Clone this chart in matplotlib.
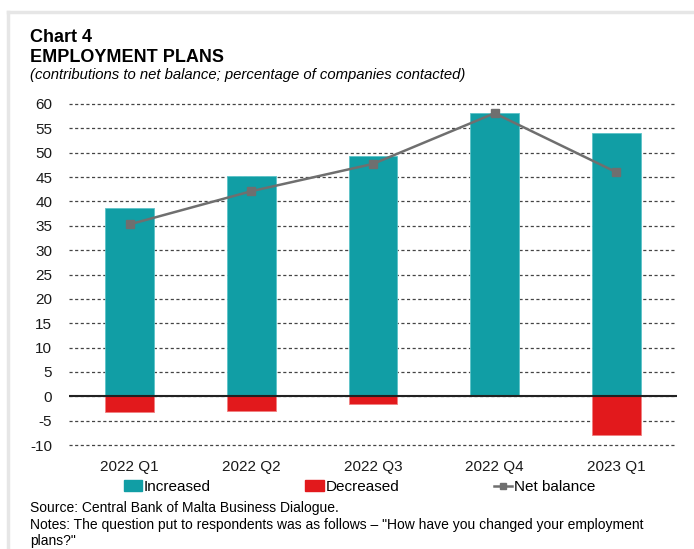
import matplotlib.pyplot as plt
from matplotlib.patches import Rectangle
from matplotlib.lines import Line2D

plt.rcParams['font.family'] = ['Liberation Sans', 'DejaVu Sans']
plt.rcParams['axes.unicode_minus'] = False

quarters = ["2022 Q1", "2022 Q2", "2022 Q3", "2022 Q4", "2023 Q1"]
increased = [38.6, 45.2, 49.3, 58.1, 54.0]
decreased = [-3.3, -3.1, -1.6, 0.0, -8.0]
net_balance = [35.3, 42.1, 47.7, 58.1, 46.0]

teal = "#119ea5"
red = "#e2191c"
grey = "#6f6f6f"

fig = plt.figure(figsize=(6.94, 5.49), dpi=100)

# light frame around the panel
fig.add_artist(Line2D([8 / 694, 8 / 694], [0, 1 - 12 / 549], color="#e6e6e6", lw=2.5))
fig.add_artist(Line2D([8 / 694, 1], [1 - 12 / 549, 1 - 12 / 549], color="#e6e6e6", lw=2.5))

ax = fig.add_axes([69 / 694, 1 - 446.5 / 549, (677 - 69) / 694, (446.5 - 102.5) / 549])

x = list(range(len(quarters)))
ax.bar(x, increased, width=0.4, color=teal, edgecolor="#5cc3c8", linewidth=0.6, zorder=2)
ax.bar(x, decreased, width=0.4, color=red, edgecolor="#f08080", linewidth=0.6, zorder=2)
ax.plot(x, net_balance, color=grey, lw=1.8, marker="s", markersize=5.5, zorder=3)

ax.set_xlim(-0.5, len(quarters) - 0.5)
ax.set_ylim(-10.3, 60.3)
ax.set_yticks(range(-10, 61, 5))
ax.set_xticks(x)
ax.set_xticklabels(quarters)
ax.yaxis.grid(True, linestyle=(0, (2.5, 2)), color="#444444", lw=0.9, zorder=0)
ax.axhline(0, color="#222222", lw=1.5, zorder=2.5)
for s in ax.spines.values():
    s.set_visible(False)
ax.tick_params(length=0, labelsize=11, colors="#1a1a1a")
ax.tick_params(axis="y", pad=12)
ax.tick_params(axis="x", pad=10)

fig.text(30 / 694, 1 - 38 / 549, "Chart 4", fontsize=13, fontweight="bold", va="center")
fig.text(30 / 694, 1 - 57 / 549, "EMPLOYMENT PLANS", fontsize=13, fontweight="bold", va="center")
fig.text(30 / 694, 1 - 75 / 549,
         "(contributions to net balance; percentage of companies contacted)",
         fontsize=10.7, style="italic", va="center")

handles = [
    Rectangle((0, 0), 1, 1, color=teal),
    Rectangle((0, 0), 1, 1, color=red),
    Line2D([], [], color=grey, lw=1.8, marker="s", markersize=5),
]
fig.legend(handles, ["Increased", "Decreased", "Net balance"], loc="center",
           bbox_to_anchor=(0.518, 1 - 487 / 549), ncol=3, frameon=False, fontsize=11,
           handlelength=1.2, handletextpad=0.1, columnspacing=6.2)

fig.text(30 / 694, 1 - 508 / 549, "Source: Central Bank of Malta Business Dialogue.",
         fontsize=10, va="center")
fig.text(30 / 694, 1 - 525 / 549,
         "Notes: The question put to respondents was as follows \u2013 \"How have you changed your employment",
         fontsize=10, va="center")
fig.text(30 / 694, 1 - 541 / 549, "plans?\"", fontsize=10, va="center")

fig.savefig("out.png", dpi=100)
